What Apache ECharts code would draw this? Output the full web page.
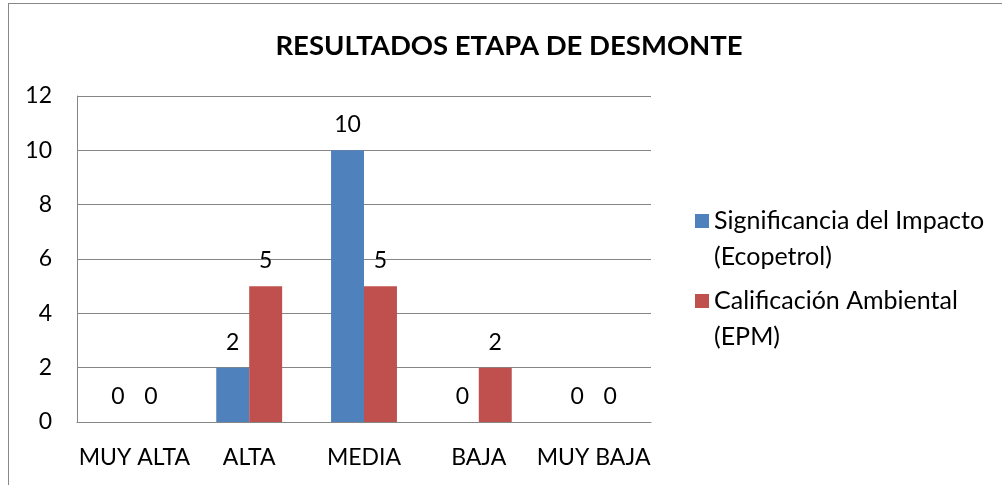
<!DOCTYPE html>
<html>
<head>
<meta charset="utf-8">
<script src="https://cdn.jsdelivr.net/npm/echarts@6/dist/echarts.min.js"></script>
<style>
  html, body { margin: 0; padding: 0; background: #fff; }
  #chart { width: 1002px; height: 485px; }
</style>
</head>
<body>
<div id="chart"></div>
<script>
const categories = ['MUY ALTA', 'ALTA', 'MEDIA', 'BAJA', 'MUY BAJA'];
const seriesNames = ['Significancia del Impacto\n(Ecopetrol)', 'Calificación Ambiental\n(EPM)'];
const impactoValues = [0, 2, 10, 0, 0];
const ambientalValues = [0, 5, 5, 2, 0];

const FONT = 'Lato';

let chart = echarts.init(document.getElementById('chart'));

let option = {
  animation: false,
  textStyle: {
    fontFamily: FONT
  },
  title: {
    text: 'RESULTADOS ETAPA DE DESMONTE',
    left: 504,
    top: 27,
    textAlign: 'center',
    textStyle: {
      fontFamily: FONT,
      fontSize: 27.5,
      fontWeight: 'bold',
      color: '#000'
    }
  },
  graphic: [
    { type: 'line', shape: { x1: 8.5, y1: 3, x2: 8.5, y2: 485 }, style: { stroke: '#888', lineWidth: 1 } },
    { type: 'line', shape: { x1: 8, y1: 3.5, x2: 1002, y2: 3.5 }, style: { stroke: '#888', lineWidth: 1 } }
  ],
  legend: {
    orient: 'vertical',
    left: 695,
    top: 167,
    padding: 0,
    itemWidth: 14,
    itemHeight: 14,
    itemGap: -28,
    icon: 'rect',
    // empty first line so the key square sits beside the first text line
    formatter: function (name) {
      return '\n' + name;
    },
    textStyle: {
      fontFamily: FONT,
      fontSize: 25,
      lineHeight: 36,
      color: '#000'
    },
    data: seriesNames
  },
  grid: {
    left: 77,
    top: 96,
    right: 351,
    bottom: 63
  },
  xAxis: {
    type: 'category',
    data: categories,
    axisLine: { lineStyle: { color: '#868686', width: 1 } },
    axisTick: { show: false },
    axisLabel: {
      interval: 0,
      fontFamily: FONT,
      fontSize: 23,
      color: '#000',
      margin: 24
    }
  },
  yAxis: {
    type: 'value',
    min: 0,
    max: 12,
    interval: 2,
    axisLine: { show: true, lineStyle: { color: '#868686', width: 1 } },
    axisTick: { show: false },
    splitLine: { lineStyle: { color: '#868686', width: 1 } },
    axisLabel: {
      fontFamily: FONT,
      fontSize: 23,
      color: '#000',
      margin: 25
    }
  },
  series: [
    {
      name: seriesNames[0],
      type: 'bar',
      data: impactoValues,
      barWidth: '28.7%',
      barGap: '0%',
      itemStyle: { color: '#4F81BD' },
      label: {
        show: true,
        position: 'top',
        distance: 14,
        fontFamily: FONT,
        fontSize: 23,
        color: '#000'
      }
    },
    {
      name: seriesNames[1],
      type: 'bar',
      data: ambientalValues,
      barWidth: '28.7%',
      barGap: '0%',
      itemStyle: { color: '#C0504D' },
      label: {
        show: true,
        position: 'top',
        distance: 14,
        fontFamily: FONT,
        fontSize: 23,
        color: '#000'
      }
    }
  ]
};

chart.setOption(option);

window.addEventListener('resize', function () {
  chart.resize();
});
</script>
</body>
</html>
